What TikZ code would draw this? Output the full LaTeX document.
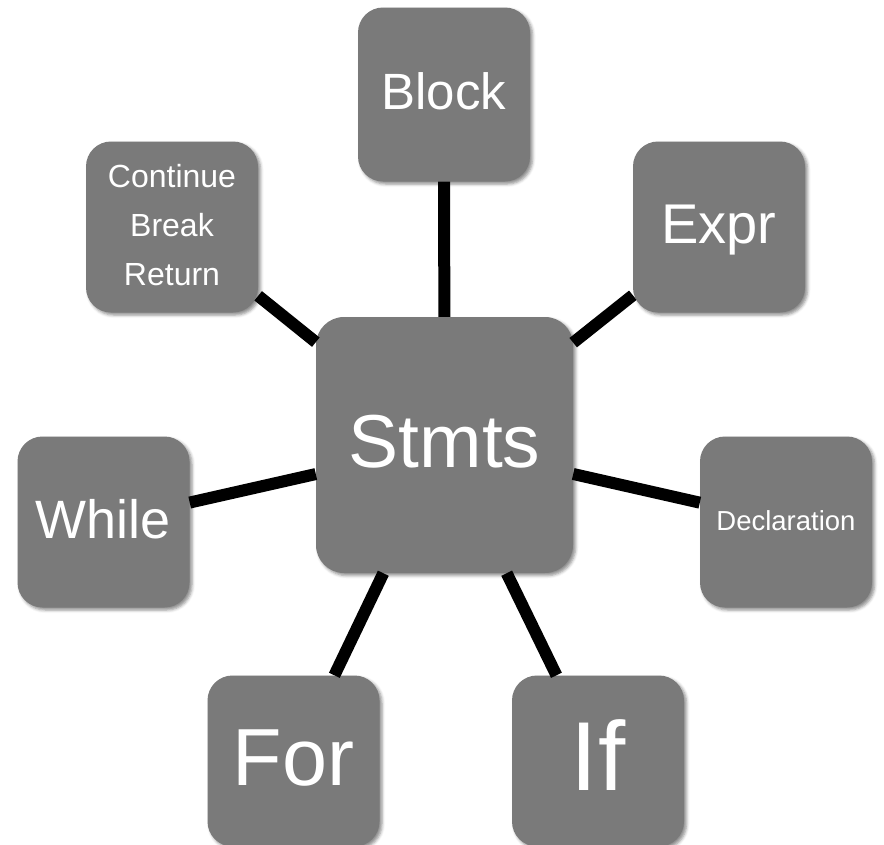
\documentclass[tikz,border=0pt]{standalone}
\usepackage{fontspec}
\setmainfont{Liberation Sans}
\usetikzlibrary{shadows.blur}
\definecolor{boxgray}{RGB}{122,122,122}
\tikzset{
  box/.style={fill=boxgray, text=white, inner sep=0pt, rounded corners=25pt,
    minimum width=172pt, minimum height=171pt, align=center,
    blur shadow={shadow xshift=2.5pt, shadow yshift=-2.5pt, shadow blur radius=3pt, shadow opacity=45}},
  bigbox/.style={box, rounded corners=28pt, minimum width=257pt, minimum height=256pt},
  link/.style={line width=12pt, black}
}
\newcommand{\fs}[1]{\fontsize{#1}{#1}\selectfont}
\begin{document}
\begin{tikzpicture}[x=1pt,y=-1pt]
\useasboundingbox (0,0) rectangle (884,844);
\node[bigbox, font=\fs{75}, text height=54pt, text depth=9pt] (stmts) at (444.5,445) {Stmts};
\node[box, minimum height=174pt, font=\fs{51}, text height=36.7pt, text depth=6.1pt] (block) at (444,94.5) {Block};
\node[box, font=\fs{56}, text height=40.3pt, text depth=6.7pt] (expr) at (719,227) {Expr};
\node[box, font=\fontsize{32}{49}\selectfont, text height=121pt, text depth=5pt] (cbr) at (172,227) {Continue\\Break\\Return};
\node[box, font=\fs{54}, text height=38.9pt, text depth=6.5pt] (while) at (103.5,522) {While};
\node[box, font=\fs{27.5}, text height=19.8pt, text depth=3.3pt] (decl) at (786,522) {Declaration};
\node[box, font=\fs{81}, text height=58.3pt, text depth=9.7pt] (for) at (293.5,761) {For};
\node[box, font=\fs{98}, text height=70.6pt, text depth=11.8pt] (if) at (598,761) {If};
\draw[link] (stmts) -- (block);
\draw[link] (stmts) -- (expr);
\draw[link] (stmts) -- (cbr);
\draw[link] (stmts) -- (while);
\draw[link] (stmts) -- (decl);
\draw[link] (stmts) -- (for);
\draw[link] (stmts) -- (if);
\end{tikzpicture}
\end{document}
